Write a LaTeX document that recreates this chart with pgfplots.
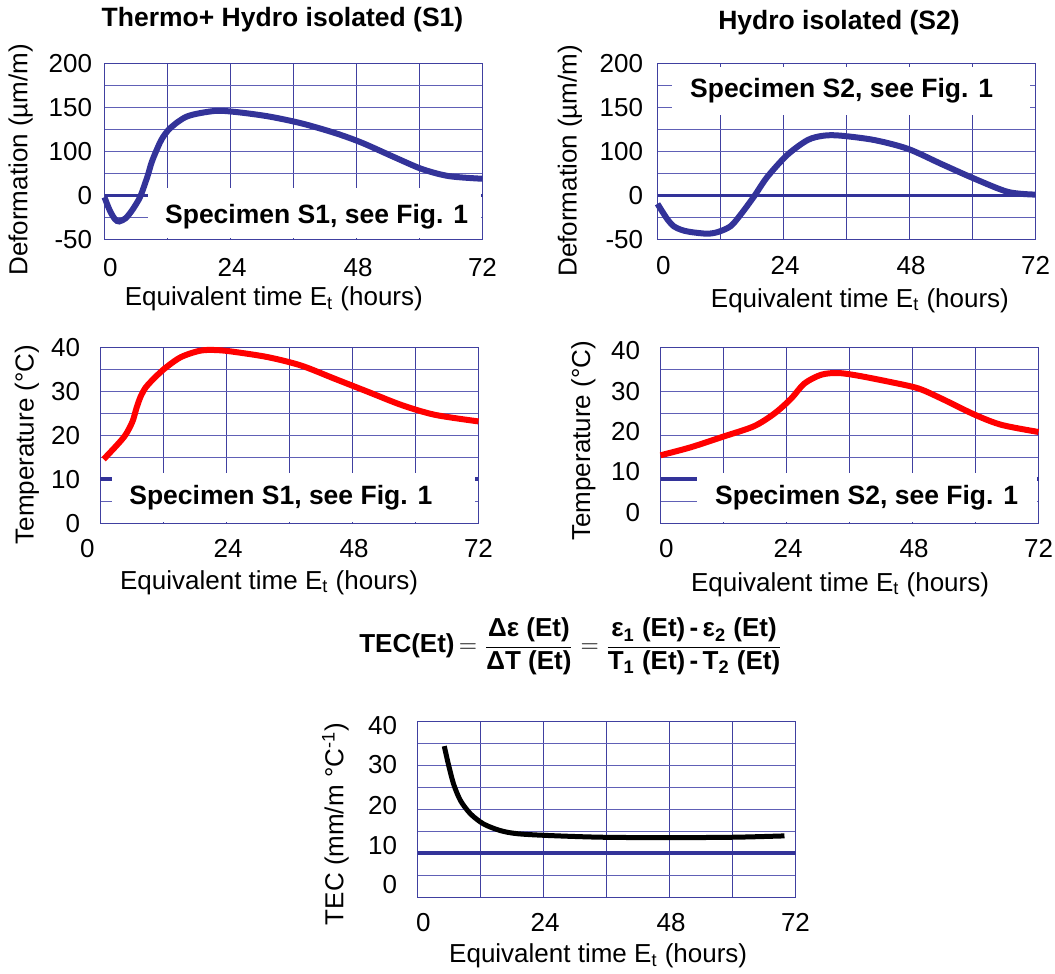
\documentclass[border=0pt]{standalone}
\usepackage{fontspec}
\setmainfont{Liberation Sans}
\usepackage{pgfplots}
\pgfplotsset{compat=1.18}
\definecolor{gridv}{RGB}{64,64,160}
\definecolor{gridh}{RGB}{96,96,182}
\definecolor{cblue}{RGB}{51,51,153}
\definecolor{cred}{RGB}{255,0,0}
\newcommand{\lbl}{\fontsize{13}{15}\selectfont}
\pgfplotsset{
  panel/.style={
    scale only axis, width=189pt, height=88pt,
    xmin=0, xmax=72,
    axis line style={draw=gridv, line width=0.6pt},
    major tick length=0pt, minor tick length=0pt,
    xtick={0,12,...,72}, xticklabels={},
    xmajorgrids=true, ymajorgrids=true,
    x grid style={draw=gridv, line width=0.6pt},
    y grid style={draw=gridh, line width=0.6pt},
    /pgf/number format/assume math mode=true,
    tick label style={font=\lbl, inner sep=0pt},
    xticklabel style={anchor=north},
    yticklabel style={anchor=east},
    extra x ticks={1.1,24.3,48.3,72}, extra x tick labels={0,24,48,72},
    extra tick style={grid=none, major tick length=0pt},
    label style={font=\lbl},
    xlabel={Equivalent time E\textsubscript{t} (hours)},
    clip=false,
  }
}
\begin{document}
\begin{tikzpicture}
\path[use as bounding box] (0,0) rectangle (527.5pt,487pt);

% ---------------- Panel 1
\begin{axis}[panel, at={(52.25pt,367.25pt)}, anchor=south west,
  ymin=0, ymax=200, ytick={0,25,...,200}, yticklabels={},
  extra y ticks={0,50,100,150,200}, extra y tick labels={-50,0,100,150,200},
  xticklabel style={yshift=-9pt}, yticklabel style={xshift=-6pt},
  xlabel style={at={(axis description cs:0.448,-0.3775)}, anchor=base},
  ylabel={Deformation (µm/m)},
  ylabel style={at={(axis description cs:-0.204,0.453)}, anchor=base}]
\addplot[cblue, line width=1.7pt] coordinates {(0,50) (72,50)};
\fill[white] (axis cs:8.2,1.2) rectangle (axis cs:71.75,58.2);
\addplot[cblue, line width=3pt, smooth] coordinates {
(0,48) (1,33) (2,23) (2.8,20.5) (4,24) (5,31) (6,40) (6.9,50) (8.2,72) (9,88)
(10.1,104) (11,115) (12.6,127) (15.8,140) (20.9,146) (24.8,145) (31.1,140)
(37.5,132) (43.9,121) (49,110) (55.4,93) (60.5,80) (65.6,72) (72,69)};
\end{axis}

% ---------------- Panel 2
\begin{axis}[panel, at={(328.75pt,367.25pt)}, anchor=south west,
  ymin=0, ymax=200, ytick={0,25,...,200}, yticklabels={},
  extra y ticks={0,50,100,150,200}, extra y tick labels={-50,0,100,150,200},
  xticklabel style={yshift=-8.3pt}, yticklabel style={xshift=-7pt},
  xlabel style={at={(axis description cs:0.5355,-0.384)}, anchor=base},
  ylabel={Deformation (µm/m)},
  ylabel style={at={(axis description cs:-0.214,0.447)}, anchor=base}]
\addplot[cblue, line width=1.7pt] coordinates {(0,50) (72,50)};
\fill[white] (axis cs:2.7,142) rectangle (axis cs:70.9,196);
\addplot[cblue, line width=3pt, smooth] coordinates {
(0,40.5) (1.1,30) (2,22) (3.1,15) (4.5,11) (6.2,8.6) (9.4,6.6) (11.5,8.5)
(13.9,15) (15.8,28) (18.4,49) (20.9,71) (24.7,96) (28.6,113) (31.7,118)
(34.9,118) (41.3,113) (47.7,103) (54,86) (60.4,69) (66.8,54) (72,51)};
\end{axis}

% ---------------- Panel 3
\begin{axis}[panel, at={(50.25pt,225.25pt)}, anchor=south west,
  ymin=0, ymax=40, ytick={0,5,...,40}, yticklabels={},
  extra y ticks={0,10,20,30,40}, extra y tick labels={0,10,20,30,40},
  extra x ticks={0,24.3,48.3,72}, extra x tick labels={\llap{0\kern2.9pt},24,48,72},
  xticklabel style={yshift=-7.5pt}, yticklabel style={xshift=-10pt},
  xlabel style={at={(axis description cs:0.446,-0.374)}, anchor=base},
  ylabel={Temperature (°C)},
  ylabel style={at={(axis description cs:-0.177,0.448)}, anchor=base}]
\addplot[cblue, line width=2pt] coordinates {(0,10) (72,10)};
\fill[white] (axis cs:2.2,0.3) rectangle (axis cs:71.4,11.5);
\addplot[cred, line width=3pt, smooth] coordinates {
(0.6,14.6) (3.2,17.9) (4.8,20.2) (6.1,23.2) (6.9,26.4) (7.7,29) (8.6,30.9) (9.8,32.5) (12.1,35.1)
(15.3,37.8) (19.1,39.3) (22.3,39.4) (25.5,39) (31.9,37.8) (38.2,35.9)
(44.6,32.9) (51,29.9) (57.4,26.9) (63.7,24.7) (72,23.2)};
\end{axis}

% ---------------- Panel 4
\begin{axis}[panel, at={(330.25pt,225.25pt)}, anchor=south west,
  ymin=0, ymax=40, ytick={0,5,...,40}, yticklabels={},
  extra y ticks={2.45,11.8,20.9,29.9,39.3}, extra y tick labels={0,10,20,30,40},
  xticklabel style={yshift=-7.5pt}, yticklabel style={xshift=-10pt},
  xlabel style={at={(axis description cs:0.475,-0.384)}, anchor=base},
  ylabel={Temperature (°C)},
  ylabel style={at={(axis description cs:-0.186,0.47)}, anchor=base}]
\addplot[cblue, line width=2pt] coordinates {(0,10) (72,10)};
\fill[white] (axis cs:7,0.3) rectangle (axis cs:71.7,11.5);
\addplot[cred, line width=3pt, smooth] coordinates {
(0,15.5) (5.7,17.3) (12.1,19.8) (17.8,22.1) (21.7,25) (24.9,28.4) (27.4,31.8)
(30.6,33.8) (33.8,34.2) (37.6,33.6) (44,32.1) (49.1,30.7) (53.5,28.4)
(59.9,24.7) (65,22.4) (72,20.8)};
\end{axis}

% ---------------- Panel 5
\begin{axis}[panel, at={(208.75pt,38.25pt)}, anchor=south west,
  ymin=0, ymax=40, ytick={0,5,...,40}, yticklabels={},
  extra y ticks={2.9,11.8,20.8,30.3,39.1}, extra y tick labels={0,10,20,30,40},
  xticklabel style={yshift=-7.8pt}, yticklabel style={xshift=-10pt},
  xlabel style={at={(axis description cs:0.478,-0.369)}, anchor=base},
  ylabel={TEC (mm/m °C\textsuperscript{-1})},
  ylabel style={at={(axis description cs:-0.196,0.4175)}, anchor=base}]
\addplot[cblue, line width=2pt] coordinates {(0,10) (72,10)};
\addplot[black, line width=2.5pt, smooth] coordinates {
(5.1,34.4) (5.9,30.2) (6.9,25.7) (8.2,22) (10.1,19) (12.6,16.7) (15.8,15.2)
(19,14.5) (24.7,14.1) (34.9,13.7) (47.7,13.6) (60.4,13.7) (69.9,14)};
\end{axis}

% ---------------- Titles and annotations
\node[anchor=base, font=\bfseries\fontsize{13.25}{15}\selectfont] at (141.25pt,473.65pt) {Thermo+ Hydro isolated (S1)};
\node[anchor=base, font=\bfseries\fontsize{13.25}{15}\selectfont] at (419.5pt,472pt) {Hydro isolated (S2)};
\node[anchor=base, font=\bfseries\fontsize{13.25}{15}\selectfont] at (158.3pt,375.35pt) {Specimen S1, see Fig. 1};
\node[anchor=base, font=\bfseries\fontsize{13.25}{15}\selectfont] at (420.8pt,438.35pt) {Specimen S2, see Fig. 1};
\node[anchor=base, font=\bfseries\fontsize{13.25}{15}\selectfont] at (140.4pt,234.5pt) {Specimen S1, see Fig. 1};
\node[anchor=base, font=\bfseries\fontsize{13.25}{15}\selectfont] at (433.3pt,234.5pt) {Specimen S2, see Fig. 1};
\node[anchor=base, font=\bfseries\fontsize{13}{15}\selectfont] at (285.5pt,160.5pt)
{TEC(Et)\,$\displaystyle=\frac{\hbox{\bfseries Δε (Et)}}{\hbox{\bfseries ΔT (Et)}}
=\frac{\hbox{\bfseries ε\textsubscript{1} (Et)\,-\,ε\textsubscript{2} (Et)}}{\hbox{\bfseries T\textsubscript{1} (Et)\,-\,T\textsubscript{2} (Et)}}$};
\end{tikzpicture}
\end{document}
